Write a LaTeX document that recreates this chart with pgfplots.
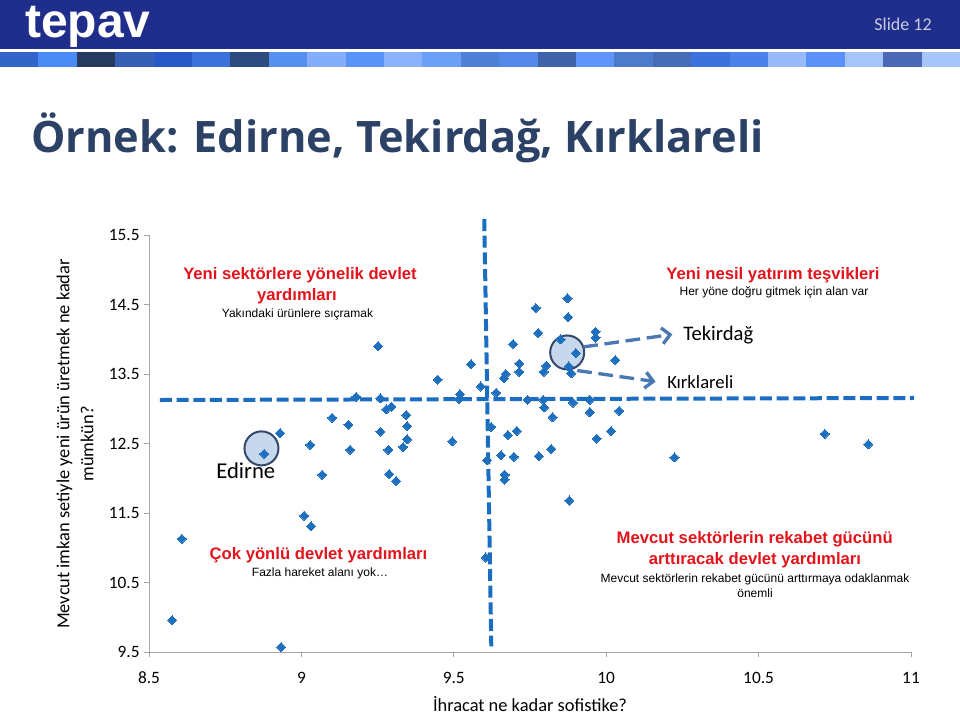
\documentclass[border=0pt]{standalone}
\usepackage{fontspec}
\setmainfont{Carlito}
\newfontfamily\arialf{Liberation Sans}
\newfontfamily\titlef{Open Sans}
\usepackage{pgfplots}
\pgfplotsset{compat=1.18}
\usetikzlibrary{arrows.meta}
\definecolor{hdr}{HTML}{1F2E8A}
\definecolor{ptblue}{HTML}{1F6FBF}
\definecolor{dashblue}{HTML}{1A6DC0}
\definecolor{arrowblue}{HTML}{4A78B4}
\definecolor{qred}{HTML}{E3131B}
\definecolor{titlec}{HTML}{2B4166}
\definecolor{circfill}{HTML}{C7D7EC}
\definecolor{circdraw}{HTML}{34486A}
\definecolor{axgray}{HTML}{A6A6A6}
\definecolor{slidec}{HTML}{C8CDE2}

\pgfplotstableread{
x y
8.576 9.96
8.608 11.13
8.934 9.57
8.930 12.65
8.878 12.35
9.029 12.48
9.068 12.05
9.009 11.46
9.032 11.31
9.101 12.87
9.154 12.77
9.160 12.41
9.180 13.17
9.252 13.90
9.259 13.15
9.259 12.67
9.278 12.99
9.295 13.03
9.285 12.41
9.288 12.06
9.311 11.96
9.344 12.91
9.347 12.75
9.347 12.56
9.334 12.45
9.447 13.42
9.557 13.64
9.520 13.21
9.518 13.14
9.589 13.32
9.639 13.23
9.664 13.44
9.670 13.50
9.695 13.93
9.715 13.65
9.715 13.53
9.742 13.13
9.769 14.45
9.777 14.09
9.795 13.53
9.803 13.62
9.793 13.13
9.797 13.02
9.824 12.88
9.873 14.59
9.875 14.32
9.850 14.00
9.900 13.80
9.885 13.51
9.877 13.61
9.891 13.09
9.946 13.13
9.946 12.95
9.965 14.11
9.965 14.02
10.030 13.70
10.043 12.97
10.016 12.68
9.969 12.57
9.495 12.53
9.623 12.74
9.677 12.62
9.706 12.68
9.655 12.33
9.697 12.31
9.779 12.32
9.820 12.42
9.609 12.26
9.667 12.05
9.667 11.98
9.879 11.68
9.605 10.86
10.224 12.30
10.717 12.64
10.860 12.49
}\pts

\begin{document}
\begin{tikzpicture}
\path[use as bounding box] (0,0) rectangle (720pt,-536.25pt);
\begin{scope}[x=0.75pt,y=-0.75pt]
\fill[hdr] (0,0) rectangle (960,49);
\foreach \c [count=\i from 0] in {3265C8,4A8AF5,263A60,3760B5,2858C5,3A72DA,2D4A7E,5590EE,85AEFA,5A93F8,8AB2FA,6BA0F5,4E80D5,5488E8,3F62A8,5F95F8,4E7ACB,476CB8,3D72DC,4A82EA,98BAFA,5A92F7,A6C3FA,4A68B5,A8C5FA} {
  \edef\tmpdef{\noexpand\definecolor{tmpc}{HTML}{\c}}\tmpdef
  \fill[tmpc] ({\i*38.4},51.5) rectangle ({(\i+1)*38.4},67);
}
\node[anchor=base west, inner sep=0, text=white, font=\arialf\bfseries\fontsize{36}{40}\selectfont] at (25,37.5) {tepav};
\node[anchor=base east, inner sep=0, text=slidec, font=\fontsize{13.5}{16}\selectfont] at (932,30) {Slide 12};
\node[anchor=base west, inner sep=0, text=titlec, font=\titlef\bfseries\fontsize{32.5}{38}\selectfont] at (31,152) {Örnek: Edirne, Tekirdağ, Kırklareli};
\end{scope}

\begin{axis}[at={(111.75pt,-489pt)}, anchor=south west, scale only axis,
  width=571.5pt, height=312.75pt,
  xmin=8.5, xmax=11, ymin=9.5, ymax=15.5,
  xtick={8.5,9,9.5,10,10.5,11}, ytick={9.5,10.5,11.5,12.5,13.5,14.5,15.5},
  axis x line*=bottom, axis y line*=left,
  every outer x axis line/.append style={-},
  every outer y axis line/.append style={-},
  axis line style={axgray, line width=0.75pt, -},
  tick style={axgray, line width=0.75pt}, tick align=outside, major tick length=3.5pt,
  ticklabel style={font=\fontsize{13}{15}\selectfont, text=black},
  xticklabel style={yshift=-8pt},
  /pgf/number format/assume math mode=true,
  clip=false]
\draw[dashblue, line width=3pt, dash pattern=on 9pt off 3.5pt] (axis cs:8.536,13.126) -- (axis cs:11.01,13.155);
\draw[dashblue, line width=3pt, dash pattern=on 9pt off 3.5pt] (axis cs:9.600,15.73) -- (axis cs:9.623,9.58);
\draw[circdraw, fill=circfill, line width=1.5pt] (axis cs:8.869,12.43) circle[radius=12.75pt];
\draw[circdraw, fill=circfill, line width=1.5pt] (axis cs:9.872,13.81) circle[radius=12.75pt];
\addplot[only marks, mark=square*, mark size=2.4pt, color=ptblue, mark options={rotate=45, fill=ptblue, draw=ptblue, line width=0pt}] table[x=x, y=y] {\pts};
\draw[arrowblue, line width=2.5pt, dash pattern=on 11pt off 5pt, -{Straight Barb[length=6pt, width=12pt]}] (axis cs:9.925,13.89) -- (axis cs:10.217,14.07);
\draw[arrowblue, line width=2.5pt, dash pattern=on 11pt off 5pt, -{Straight Barb[length=6pt, width=12pt]}] (axis cs:9.905,13.55) -- (axis cs:10.162,13.39);
\end{axis}

\begin{scope}[x=0.75pt,y=-0.75pt]
\tikzset{qr/.style={anchor=base, inner sep=0, text=qred, font=\arialf\bfseries\fontsize{12.5}{14}\selectfont},
         qb/.style={anchor=base, inner sep=0, text=black, font=\arialf\fontsize{9}{11}\selectfont}}
\node[qr] at (300,279.3) {Yeni sektörlere yönelik devlet};
\node[qr] at (297,300.7) {yardımları};
\node[qb] at (297.5,317.7) {Yakındaki ürünlere sıçramak};
\node[qr] at (318.5,559.3) {Çok yönlü devlet yardımları};
\node[qb] at (320,576) {Fazla hareket alanı yok…};
\node[qr] at (773,279) {Yeni nesil yatırım teşvikleri};
\node[qb] at (774,295.7) {Her yöne doğru gitmek için alan var};
\node[qr] at (754.7,543.3) {Mevcut sektörlerin rekabet gücünü};
\node[qr] at (755,564.3) {arttıracak devlet yardımları};
\node[qb] at (755,582.7) {Mevcut sektörlerin rekabet gücünü arttırmaya odaklanmak};
\node[qb] at (755,597.3) {önemli};
\node[anchor=base west, inner sep=0, font=\fontsize{17}{20}\selectfont] at (216,478.3) {Edirne};
\node[anchor=base west, inner sep=0, font=\fontsize{15.5}{18}\selectfont] at (683,340) {Tekirdağ};
\node[anchor=base west, inner sep=0, font=\fontsize{14}{17}\selectfont] at (667,388.3) {Kırklareli};
\node[rotate=90, align=center, inner sep=0, font=\fontsize{13.8}{18}\selectfont] at (75,444) {Mevcut imkan setiyle yeni ürün üretmek ne kadar\\mümkün?};
\node[anchor=base, inner sep=0, font=\fontsize{13.8}{16}\selectfont] at (530,711) {İhracat ne kadar sofistike?};
\end{scope}
\end{tikzpicture}
\end{document}
